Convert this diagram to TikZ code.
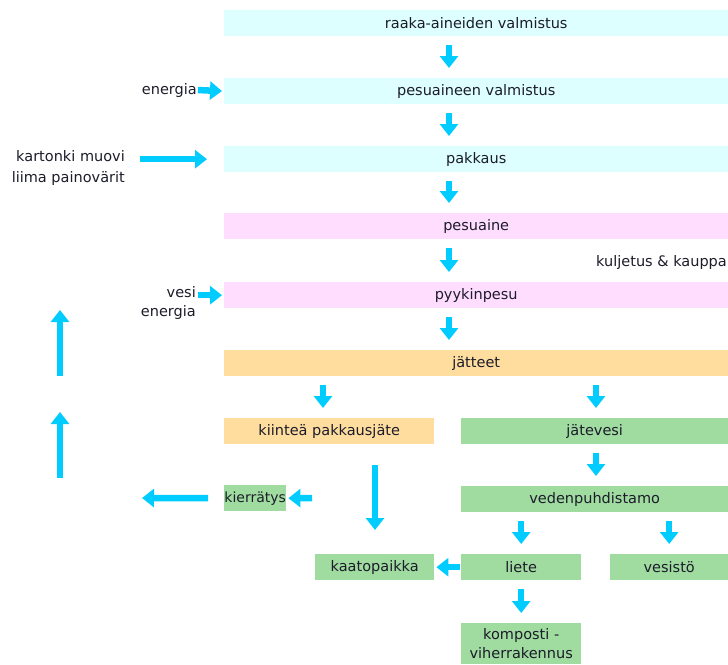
\documentclass[tikz,border=0pt]{standalone}
\usepackage{fontspec}
\setmainfont{DejaVu Sans}
\usetikzlibrary{arrows.meta,positioning}
\definecolor{boxcyan}{HTML}{DDFFFF}
\definecolor{boxpink}{HTML}{FFDDFF}
\definecolor{boxorange}{HTML}{FFDD9E}
\definecolor{boxgreen}{HTML}{A0DCA0}
\definecolor{flowcyan}{HTML}{00CCFF}
\definecolor{txt}{HTML}{1C1C2A}

\begin{document}
\begin{tikzpicture}[x=1pt,y=-1pt,
  every node/.style={font=\fontsize{14.5}{19}\selectfont,text=txt,inner sep=0pt},
  box/.style={anchor=north west,minimum height=26pt},
  flow/.style={draw=flowcyan,line width=6.5pt,-{Triangle[width=18pt,length=12pt]},shorten <=9pt,shorten >=10pt}]
 \useasboundingbox (0,0) rectangle (728,664);
 % vaiheet
 \node[box,fill=boxcyan,minimum width=504pt] (raaka) at (224,10) {raaka-aineiden valmistus};
 \node[box,fill=boxcyan,minimum width=504pt] (pesuval) at (224,78) {pesuaineen valmistus};
 \node[box,fill=boxcyan,minimum width=504pt] (pakkaus) at (224,146) {pakkaus};
 \node[box,fill=boxpink,minimum width=504pt] (pesuaine) at (224,213) {pesuaine};
 \node[box,fill=boxpink,minimum width=504pt] (pyykki) at (224,282) {pyykinpesu};
 \node[box,fill=boxorange,minimum width=504pt] (jatteet) at (224,350) {jätteet};
 \node[box,fill=boxorange,minimum width=210pt] (kiintea) at (224,418) {kiinteä pakkausjäte};
 \node[box,fill=boxgreen,minimum width=267pt] (jatevesi) at (461,418) {jätevesi};
 \node[box,fill=boxgreen,minimum width=62pt,font=\fontsize{14}{19}\selectfont] (kierratys) at (224,485) {kierrätys};
 \node[box,fill=boxgreen,minimum width=267pt] (vedenp) at (461,486) {vedenpuhdistamo};
 \node[box,fill=boxgreen,minimum width=119pt] (kaato) at (315,554) {kaatopaikka};
 \node[box,fill=boxgreen,minimum width=120pt] (liete) at (461,554) {liete};
 \node[box,fill=boxgreen,minimum width=118pt] (vesisto) at (610,554) {vesistö};
 \node[box,fill=boxgreen,minimum width=120pt,minimum height=41pt,align=center] (komposti) at (461,623) {komposti -\\viherrakennus};
 % panokset
 \node[anchor=east] (energia) at (197,90) {energia};
 \node[anchor=north east,align=right,font=\fontsize{14.5}{21}\selectfont] (kartonki) at (125,150) {kartonki muovi\\liima painovärit};
 \node[anchor=north east,align=right] (vesienergia) at (196,286) {vesi\\energia};
 \node[anchor=west] (kuljetus) at (596,262) {kuljetus \& kauppa};
 % nuolet
 \coordinate (paa) at (449,0);
 \coordinate (vas) at (323,0);
 \coordinate (oik) at (596,0);
 \coordinate (alas) at (375,0);
 \foreach \a/\b in {raaka/pesuval,pesuval/pakkaus,pakkaus/pesuaine,pesuaine/pyykki,pyykki/jatteet}
   {\draw[flow] (\a.south -| paa) -- (\b.north -| paa);}
 \draw[flow] (jatteet.south -| vas) -- (kiintea.north -| vas);
 \draw[flow] (jatteet.south -| oik) -- (jatevesi.north -| oik);
 \draw[flow] (jatevesi.south -| oik) -- (vedenp.north -| oik);
 \draw[flow] (vedenp.south -| liete) -- (liete.north);
 \draw[flow] (vedenp.south -| vesisto) -- (vesisto.north);
 \draw[flow] (liete.south) -- (komposti.north);
 \draw[flow,shorten <=1pt,shorten >=2pt] (liete.west) -- (kaato.east);
 \draw[flow,shorten <=21pt,shorten >=24pt] (kiintea.south -| alas) -- (kaato.north -| alas);
 \coordinate (kierto) at (312,498);
 \coordinate (vasen) at (142,498);
 \draw[flow,shorten <=0pt,shorten >=2pt] (kierto) -- (kierratys.east);
 \draw[flow,shorten <=16pt,shorten >=0pt] (kierratys.west) -- (vasen);
 \coordinate (ylos1) at (60,478);\coordinate (ylos2) at (60,412);
 \coordinate (ylos3) at (60,376);\coordinate (ylos4) at (60,310);
 \draw[flow,shorten <=0pt,shorten >=0pt] (ylos1) -- (ylos2);
 \draw[flow,shorten <=0pt,shorten >=0pt] (ylos3) -- (ylos4);
 \draw[flow,shorten <=1pt,shorten >=2pt] (energia.east) -- (pesuval.west);
 \draw[flow,shorten <=15pt,shorten >=17pt] (kartonki.east |- pakkaus) -- (pakkaus.west);
 \draw[flow,shorten <=2pt,shorten >=2pt] (vesienergia.east |- pyykki) -- (pyykki.west);
\end{tikzpicture}
\end{document}
